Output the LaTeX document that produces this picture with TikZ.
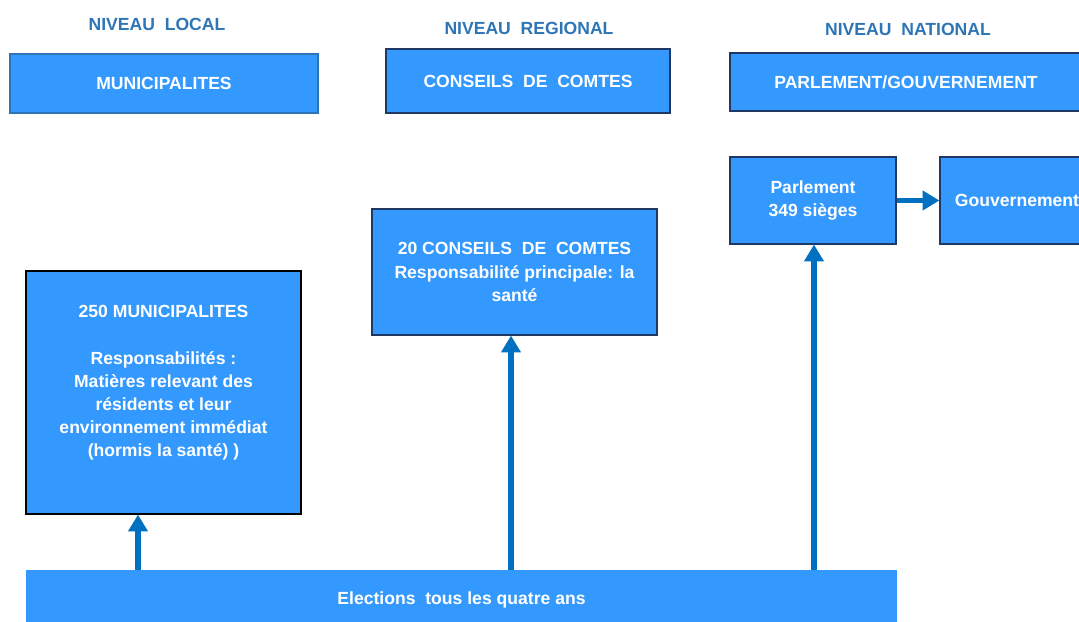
\documentclass[tikz,border=0pt]{standalone}
\usepackage{fontspec}
\setmainfont{Liberation Sans}
\usetikzlibrary{arrows.meta}
\definecolor{boxblue}{RGB}{51,153,255}
\definecolor{arrowblue}{RGB}{0,112,192}
\definecolor{headblue}{RGB}{46,117,182}
\definecolor{navy}{RGB}{31,56,100}

\begin{document}
\begin{tikzpicture}[
    x=0.025cm, y=-0.025cm,
    box/.style={draw=navy, line width=0.8pt, fill=boxblue, text=white, align=center, inner sep=0pt, font=\fontsize{12.5}{16.4}\selectfont\bfseries},
    head/.style={text=headblue, font=\fontsize{12.5}{15}\selectfont\bfseries},
    arrow/.style={-{Triangle[width=13.5pt, length=12pt]}, line width=3.6pt, draw=arrowblue}
  ]
    \useasboundingbox (0,0) rectangle (1079,622);
    \clip (0,0) rectangle (1079,622);

    % en-tetes
    \node[head] (hlocal) at (157,24) {NIVEAU\ \ LOCAL};
    \node[head] (hreg) at (529,28) {NIVEAU\ \ REGIONAL};
    \node[head] (hnat) at (908,29) {NIVEAU\ \ NATIONAL};

    % niveaux
    \node[box, draw=headblue, minimum width=7.7cm, minimum height=1.475cm] (muni) at (164,83.5) {MUNICIPALITES};
    \node[box, minimum width=7.1cm, minimum height=1.6cm] (cons) at (528,81) {CONSEILS\ \ DE\ \ COMTES};
    \node[box, minimum width=8.8cm, minimum height=1.45cm] (parlgouv) at (906,82) {PARLEMENT/GOUVERNEMENT};

    % details
    \node[box, minimum width=4.15cm, minimum height=2.175cm] (parl) at (813,200.5) {Parlement\\349 sièges};
    \node[box, minimum width=3.85cm, minimum height=2.175cm] (gouv) at (1017,200.5) {Gouvernement};
    \node[box, minimum width=7.125cm, minimum height=3.15cm] (c20) at (514.5,272) {20 CONSEILS\ \ DE\ \ COMTES\\Responsabilité principale: la\\santé};
    \node[box, draw=black, minimum width=6.875cm, minimum height=6.075cm] (m250) at (163.5,392.5) {250 MUNICIPALITES\\ \mbox{}\\Responsabilités :\\Matières relevant des\\résidents et leur\\environnement immédiat\\(hormis la santé) )\\ \mbox{}};

    % elections
    \node[box, draw=none, minimum width=21.775cm, minimum height=1.5cm] (elec) at (461.5,600) {Elections\ \ tous les quatre ans};

    \coordinate (e1) at (138,570);
    \coordinate (e2) at (511,570);
    \coordinate (e3) at (814,570);
    \draw[arrow] (e1) -- (e1 |- m250.south);
    \draw[arrow] (e2) -- (e2 |- c20.south);
    \draw[arrow] (e3) -- (e3 |- parl.south);
    \draw[arrow] (parl.east) -- (gouv.west);
  \end{tikzpicture}
\end{document}
